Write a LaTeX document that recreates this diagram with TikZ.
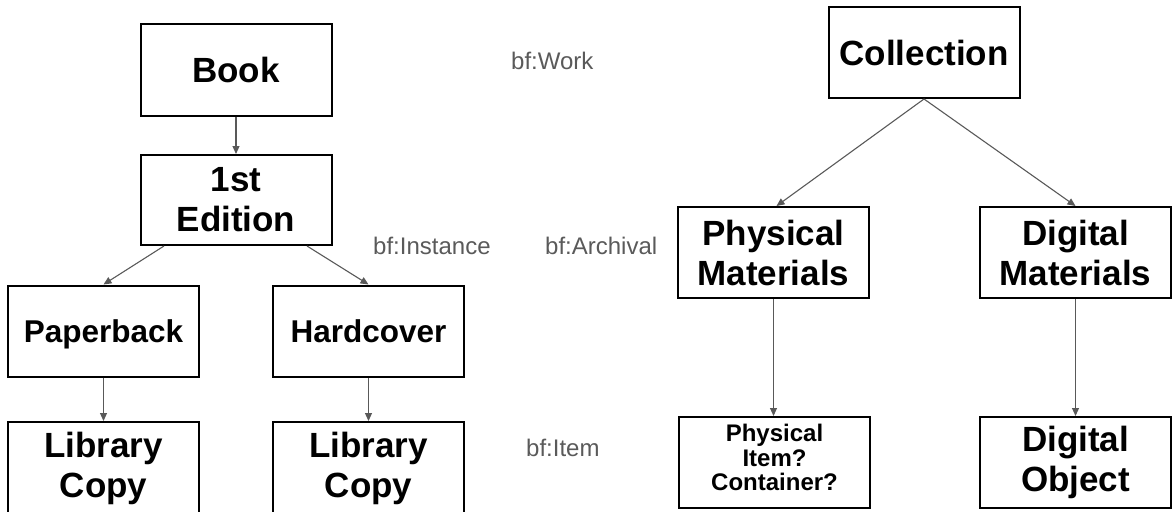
\documentclass[tikz,border=0pt]{standalone}
\usepackage{fontspec}
\setmainfont{Liberation Sans}
\usetikzlibrary{arrows.meta,calc}
\definecolor{linkgray}{HTML}{595959}
\definecolor{labelgray}{HTML}{5A5A5A}
\begin{document}
\begin{tikzpicture}[x=1pt,y=-1pt,
  box/.style={draw=black, line width=2pt, minimum width=191pt, minimum height=91pt,
    inner sep=0pt, align=center, font=\bfseries\fontsize{35}{40}\selectfont},
  midbox/.style={box, font=\bfseries\fontsize{31.5}{36}\selectfont, text depth=0pt},
  smallbox/.style={box, font=\bfseries\fontsize{24}{24.5}\selectfont, text depth=10pt},
  link/.style={draw=linkgray, line width=1.1pt, -{Triangle[length=8pt,width=7pt]}},
  tag/.style={text=labelgray, font=\fontsize{24}{28}\selectfont, inner sep=0pt, anchor=base west}]
\useasboundingbox (0,0) rectangle (1174,511);

% Bibliographic hierarchy
\node[box] (book) at (236,70) {Book};
\node[box, minimum height=90pt] (edition) at (236,200) {1st\\Edition};
\node[midbox] (paper) at (103.5,331) {Paperback};
\node[midbox] (hard) at (368.5,331) {Hardcover};
\node[box, minimum height=92pt] (lib1) at (103.5,468) {Library\\Copy};
\node[box, minimum height=92pt] (lib2) at (368.5,468) {Library\\Copy};

% Archival hierarchy
\node[box] (coll) at (924,52.5) {Collection};
\node[box] (phys) at (773.5,252.5) {Physical\\Materials};
\node[box] (dig) at (1075.5,252.5) {Digital\\Materials};
\node[smallbox] (pitem) at (774.5,462.5) {Physical\\Item?\\Container?};
\node[box] (dobj) at (1075.5,462.5) {Digital\\Object};

% BIBFRAME class labels
\node[tag] (work) at (511,69) {bf:Work};
\node[tag] (instance) at (373,254) {bf:Instance};
\node[tag] (archival) at (545,254) {bf:Archival};
\node[tag] (item) at (526,456) {bf:Item};

% Connectors
\draw[link] (book) -- (edition);
\draw[link] ($(edition.south)+(-72,0)$) -- (paper.north);
\draw[link] ($(edition.south)+(71,0)$) -- (hard.north);
\draw[link] (paper) -- (lib1);
\draw[link] (hard) -- (lib2);
\draw[link] (coll.south) -- ($(phys.north)+(3,0)$);
\draw[link] (coll.south) -- (dig.north);
\draw[link] (phys.south) -- (phys.south |- pitem.north);
\draw[link] (dig) -- (dobj);
\end{tikzpicture}
\end{document}
